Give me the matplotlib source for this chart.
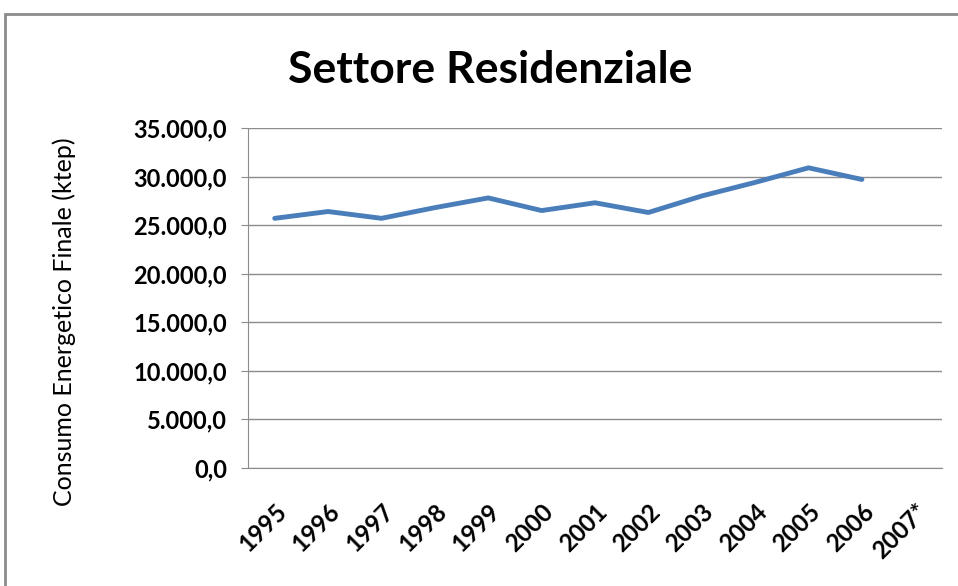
import matplotlib.pyplot as plt
from matplotlib.patches import Rectangle
from matplotlib.ticker import FuncFormatter

# Dati
anni = ['1995', '1996', '1997', '1998', '1999', '2000', '2001',
        '2002', '2003', '2004', '2005', '2006', '2007*']
consumo = [25700, 26400, 25700, 26800, 27800, 26500, 27300,
           26300, 28000, 29400, 30900, 29700, None]
y_ticks = [0, 5000, 10000, 15000, 20000, 25000, 30000, 35000]

plt.rcParams['font.family'] = ['Lato', 'DejaVu Sans']

fig = plt.figure(figsize=(9.58, 5.86), dpi=100)
ax = fig.add_axes([0.2589, 0.2014, 0.7244, 0.5802])

# cornice del grafico
fig.patches.append(Rectangle((5 / 958, -0.05), 1.1, 1 - 14 / 586 + 0.05,
                             transform=fig.transFigure, fill=False,
                             edgecolor='#8c8c8c', linewidth=2))

x = list(range(len(anni)))
xs = [i for i, v in zip(x, consumo) if v is not None]
vs = [v for v in consumo if v is not None]
ax.plot(xs, vs, color='#4A7EBB', linewidth=3.5, solid_capstyle='round')

ax.set_xlim(-0.5, len(anni) - 0.5)
ax.set_ylim(0, 35000)
ax.set_yticks(y_ticks)


def fmt(v, pos):
    s = f'{v:,.1f}'
    return s.replace(',', 'X').replace('.', ',').replace('X', '.')


ax.yaxis.set_major_formatter(FuncFormatter(fmt))
ax.set_xticks(x)
ax.set_xticklabels(anni, rotation=45, ha='right', rotation_mode='anchor',
                   fontsize=17.5, fontweight='bold')
for lab in ax.get_yticklabels():
    lab.set_fontweight('bold')
    lab.set_fontsize(17)

ax.tick_params(axis='x', length=0, pad=23)
ax.tick_params(axis='y', length=5, color='#8c8c8c', pad=10)
ax.grid(axis='y', color='#8c8c8c', linewidth=1)
ax.set_axisbelow(True)
for s in ['top', 'right']:
    ax.spines[s].set_visible(False)
for s in ['left', 'bottom']:
    ax.spines[s].set_color('#8c8c8c')

ax.set_ylabel('Consumo Energetico Finale (ktep)', fontsize=18)
ax.yaxis.set_label_coords(-0.248, 0.43)
fig.text(0.512, 0.88, 'Settore Residenziale', ha='center', va='center',
         fontsize=32, fontweight='bold')

fig.savefig('out.png', dpi=100)
